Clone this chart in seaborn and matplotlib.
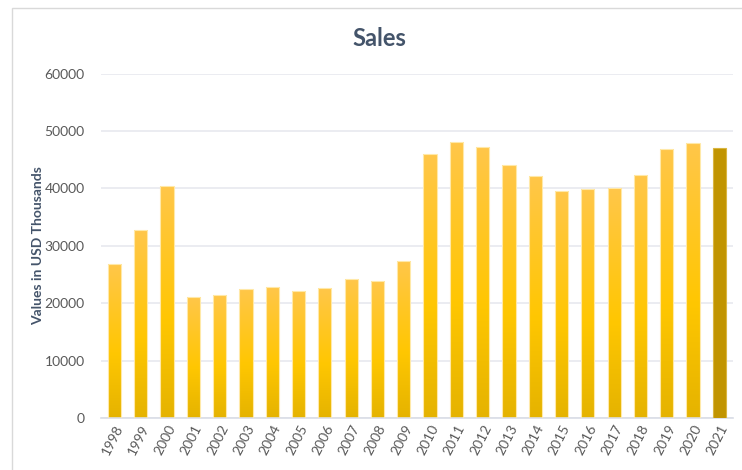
import numpy as np
import pandas as pd
import matplotlib
matplotlib.use("Agg")
import matplotlib.pyplot as plt
from matplotlib.colors import LinearSegmentedColormap
from matplotlib.patches import Rectangle
import seaborn as sns

years = [str(y) for y in range(1998, 2022)]
sales = [26900, 32700, 40400, 21200, 21500, 22500, 22900, 22100, 22700, 24300,
         23900, 27450, 46050, 48050, 47250, 44100, 42250, 39550, 39850, 40100,
         42300, 46900, 48000, 47000]
title = "Sales"
ylabel = "Values in USD Thousands"
yticks = [0, 10000, 20000, 30000, 40000, 50000, 60000]

sns.set_theme(style="white")
plt.rcParams['font.family'] = ['Lato', 'DejaVu Sans']

df = pd.DataFrame({"Year": years, "Sales": sales})

fig = plt.figure(figsize=(7.42, 4.70), dpi=100)
ax = fig.add_axes([101.3/742, 1-418.3/470, (732.5-101.3)/742, (418.3-73.6)/470])

sns.barplot(data=df, x="Year", y="Sales", color="#FFC800", width=0.5, ax=ax,
            edgecolor="#FFE9A8", linewidth=0.8, zorder=3)

ax.set_yticks(yticks)
ax.set_yticklabels([str(t) for t in yticks])
ax.yaxis.grid(True, color="#E7E9EF", linewidth=1.2, zorder=0)
ax.set_axisbelow(True)
for s in ["top", "right", "left"]:
    ax.spines[s].set_visible(False)
ax.spines["bottom"].set_color("#D9DDE6")
ax.spines["bottom"].set_linewidth(1.2)

# gradient fills clipped to bars
cmap = LinearSegmentedColormap.from_list(
    "gold", [(0.0, "#E5B300"), (0.42, "#FFC702"), (1.0, "#FFC64A")])
grad = np.linspace(0, 1, 256).reshape(-1, 1)
patches = list(ax.patches)
for i, p in enumerate(patches):
    x0, y0 = p.get_x(), p.get_y()
    w, h = p.get_width(), p.get_height()
    if i == len(patches) - 1:
        p.set_facecolor("#C19400")
        p.set_edgecolor("#D9B540")
        continue
    p.set_facecolor("none")
    im = ax.imshow(grad, cmap=cmap, origin="lower", aspect="auto",
                   extent=[x0, x0 + w, y0, y0 + h], zorder=2)
    im.set_clip_path(p)
ax.set_xlim(-0.5, len(years) - 0.5)
ax.set_ylim(0, 60000)

ax.tick_params(axis="y", length=0, pad=12, labelsize=10, labelcolor="#595959")
ax.tick_params(axis="x", length=0, pad=3, labelsize=10, labelcolor="#595959")
plt.setp(ax.get_xticklabels(), rotation=63, ha="right", rotation_mode="anchor")
ax.set_xlabel("")
ax.set_ylabel(ylabel, fontsize=10, fontweight="bold", color="#44546A", labelpad=0)

fig.text(379/742, 1-38/470, title, ha="center", va="center",
         fontsize=17, fontweight="bold", color="#44546A")

fig.patches.append(Rectangle((12/742, -0.02), 1.0, 1-8/470+0.02,
                             transform=fig.transFigure, fill=False,
                             edgecolor="#D9D9D9", linewidth=1.0))

fig.savefig("out.png", dpi=100)
